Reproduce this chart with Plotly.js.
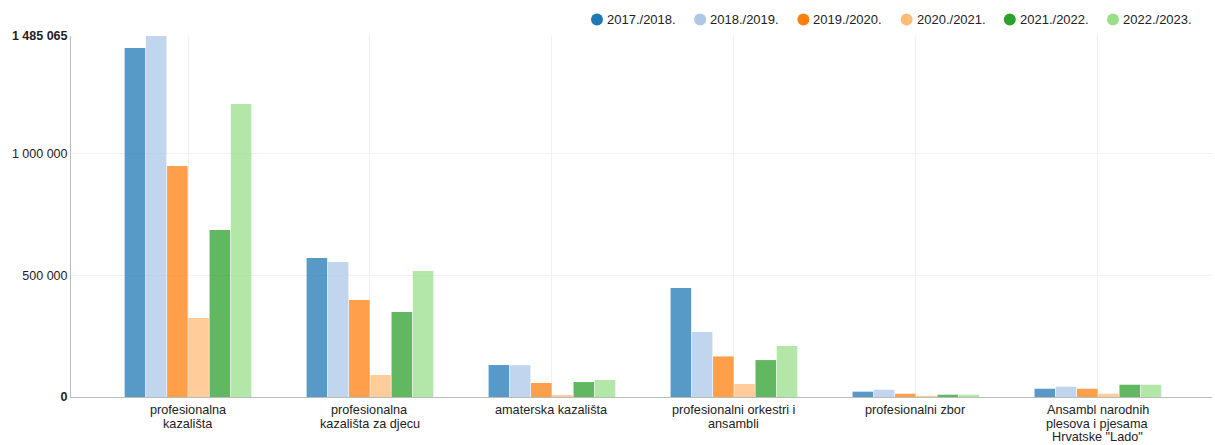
<!DOCTYPE html>
<html>
<head>
<meta charset="utf-8">
<script src="https://cdn.plot.ly/plotly-3.0.1.min.js"></script>
<style>html,body{margin:0;padding:0;background:#fff;}#chart{width:1215px;height:445px;}</style>
</head>
<body>
<div id="chart"></div>
<script>
const categories = [
  "profesionalna<br>kazališta",
  "profesionalna<br>kazališta za djecu",
  "amaterska kazališta",
  "profesionalni orkestri i<br>ansambli",
  "profesionalni zbor",
  "Ansambl narodnih<br>plesova i pjesama<br>Hrvatske \"Lado\""
];
const seasons = ["2017./2018.", "2018./2019.", "2019./2020.", "2020./2021.", "2021./2022.", "2022./2023."];
const v2017 = [1436000, 572000, 131500, 448000, 22000, 34000];
const v2018 = [1485065, 555000, 131000, 267000, 30000, 42500];
const v2019 = [950000, 399000, 57500, 167000, 13500, 34000];
const v2020 = [325000, 90500, 8000, 53500, 5000, 13500];
const v2021 = [687000, 350000, 61500, 152000, 9500, 50500];
const v2022 = [1205000, 518000, 70000, 210000, 9500, 50500];
const seriesValues = [v2017, v2018, v2019, v2020, v2021, v2022];
const colors = ["#1f77b4", "#aec7e8", "#ff7f0e", "#ffbb78", "#2ca02c", "#98df8a"];
const yTickVals = [0, 500000, 1000000, 1485065];
const yTickText = ["<b>0</b>", "500 000", "1 000 000", "<b>1 485 065</b>"];

// layout geometry (pixels)
const W = 1215, H = 445;
const M = {l: 71, r: 3, t: 36, b: 48};
const plotW = W - M.l - M.r, plotH = H - M.t - M.b;
const px2x = px => (px - M.l) / plotW;
const py2y = py => (H - M.b - py) / plotH;

const xIdx = categories.map((c, i) => i);
const traces = seasons.map((s, k) => ({
  type: "bar", x: xIdx, y: seriesValues[k], name: s,
  marker: {color: colors[k], opacity: 0.75, line: {width: 0}},
  showlegend: false, hoverinfo: "y+name"
}));

// category labels, one annotation per line for tight line spacing
const annotations = [];
categories.forEach((c, i) => {
  c.split("<br>").forEach((line, j) => {
    annotations.push({
      x: i, xref: "x", y: 0, yref: "paper", yanchor: "middle", xanchor: "center",
      yshift: -(13 + 13.6 * j), text: line, showarrow: false,
      font: {size: 12.7, color: "#222"}
    });
  });
});

// custom legend (circle + label)
const shapes = [];
const legendStart = 597, legendStep = 103.2, legendY = 19.5, r = 6;
seasons.forEach((s, k) => {
  const cx = legendStart + k * legendStep;
  shapes.push({
    type: "circle", xref: "paper", yref: "paper",
    x0: px2x(cx - r), x1: px2x(cx + r), y0: py2y(legendY + r), y1: py2y(legendY - r),
    fillcolor: colors[k], line: {width: 0}
  });
  annotations.push({
    x: px2x(cx + 8), xref: "paper", y: py2y(legendY), yref: "paper",
    xanchor: "left", yanchor: "middle", text: s, showarrow: false,
    font: {size: 13, color: "#222"}
  });
});

const layout = {
  width: W, height: H,
  margin: M,
  paper_bgcolor: "#fff", plot_bgcolor: "#fff",
  font: {family: "Liberation Sans, Arial, sans-serif", size: 12.5, color: "#222"},
  barmode: "group", bargap: 0.3, bargroupgap: 0.03,
  showlegend: false,
  annotations: annotations,
  shapes: shapes,
  xaxis: {
    range: [-0.643, 5.627], tickmode: "array", tickvals: xIdx, showticklabels: false,
    showgrid: true, gridcolor: "#f1f1f1", gridwidth: 1, zeroline: false,
    showline: true, linecolor: "#bbbbbb", linewidth: 1, ticks: "", fixedrange: true
  },
  yaxis: {
    range: [0, 1485065], tickmode: "array", tickvals: yTickVals, ticktext: yTickText,
    showgrid: true, gridcolor: "#f1f1f1", zeroline: false,
    showline: true, linecolor: "#bbbbbb", linewidth: 1, ticks: "",
    tickfont: {size: 12.5, color: "#222"}, fixedrange: true
  }
};
Plotly.newPlot("chart", traces, layout, {displayModeBar: false, staticPlot: true});
</script>
</body>
</html>
